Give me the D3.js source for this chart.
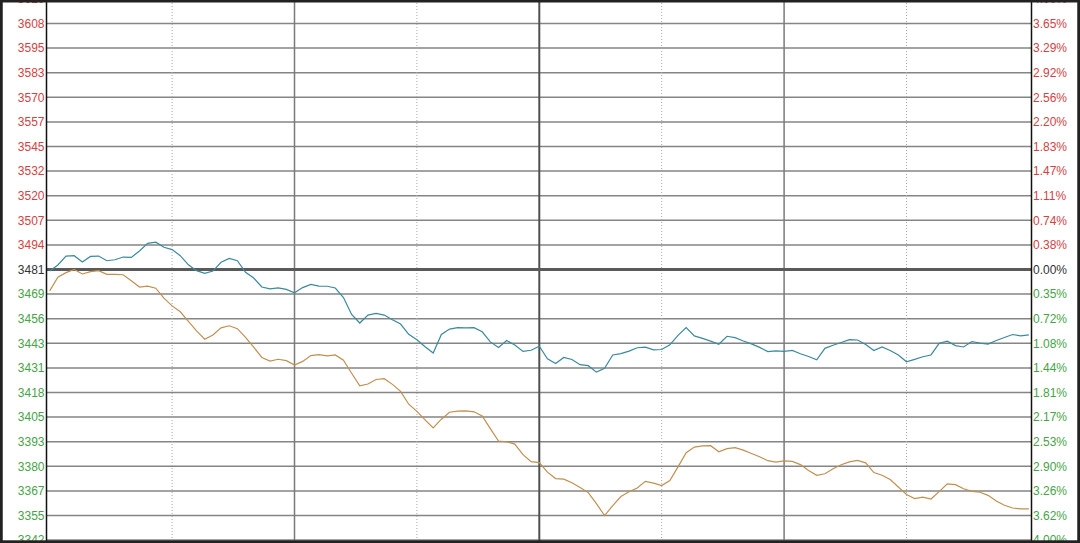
<!DOCTYPE html>
<html><head><meta charset="utf-8">
<script src="https://cdn.jsdelivr.net/npm/d3@7"></script>
<style>html,body{margin:0;padding:0;background:#fff;overflow:hidden}svg{display:block}</style>
</head><body>
<svg id="chart" width="1080" height="543"></svg>
<script>
// ---- data ----
const prevClose = 3481.3;
const gridStep = 12.636;
const leftLabels = ["3620","3608","3595","3583","3570","3557","3545","3532","3520","3507","3494","3481","3469","3456","3443","3431","3418","3405","3393","3380","3367","3355","3342"];
const rightLabels = ["4.00%","3.65%","3.29%","2.92%","2.56%","2.20%","1.83%","1.47%","1.11%","0.74%","0.38%","0.00%","0.35%","0.72%","1.08%","1.44%","1.81%","2.17%","2.53%","2.90%","3.26%","3.62%","4.00%"];
const timeMarks = [30, 60, 90, 120, 150, 180, 210];
const sampleStep = 2; // minutes between samples
const indexSeries = [3480.5,3483.6,3488.2,3488.4,3485.2,3488.0,3488.2,3485.8,3486.3,3487.7,
 3487.5,3490.8,3494.7,3495.3,3492.7,3491.5,3488.4,3483.7,3480.7,3479.3,
 3480.5,3485.0,3487.0,3485.8,3479.9,3476.9,3472.3,3471.4,3471.9,3471.1,
 3469.3,3472.0,3473.6,3472.8,3472.7,3471.8,3466.9,3458.2,3453.8,3457.9,
 3458.8,3457.9,3455.5,3453.3,3448.0,3445.2,3441.6,3438.4,3447.9,3450.7,
 3451.4,3451.3,3451.4,3449.3,3444.1,3441.2,3444.8,3442.5,3439.2,3439.8,
 3441.9,3435.4,3433.0,3436.1,3435.1,3432.4,3431.9,3428.6,3430.6,3437.4,
 3438.1,3439.4,3441.1,3441.4,3440.0,3440.2,3442.6,3447.5,3451.5,3447.2,
 3445.9,3444.5,3442.9,3447.0,3446.3,3444.6,3443.1,3441.3,3439.1,3439.5,
 3439.2,3439.7,3438.0,3436.6,3434.9,3440.8,3442.4,3443.8,3445.3,3445.1,
 3442.8,3439.7,3441.5,3439.7,3437.4,3433.9,3435.1,3436.5,3437.4,3443.4,
 3444.5,3442.2,3441.5,3444.3,3443.5,3443.0,3444.8,3446.4,3447.9,3447.2,3447.7];
const avgSeries = [3470.3,3477.3,3479.7,3481.3,3479.0,3480.2,3480.7,3478.8,3478.8,3478.6,
 3475.5,3472.3,3472.8,3471.7,3466.6,3462.6,3459.6,3454.6,3449.8,3445.5,
 3447.7,3451.3,3452.4,3450.9,3446.4,3441.4,3436.1,3434.3,3435.2,3434.5,
 3432.2,3434.1,3437.1,3437.6,3436.9,3437.4,3434.7,3428.0,3421.6,3422.5,
 3424.8,3425.2,3422.3,3418.7,3412.1,3408.4,3404.1,3399.9,3404.4,3408.0,
 3408.6,3408.7,3408.2,3406.1,3399.6,3393.2,3392.8,3391.6,3386.2,3382.6,
 3382.1,3377.2,3373.9,3373.6,3371.8,3369.3,3366.7,3361.0,3354.9,3360.0,
 3364.7,3367.1,3369.1,3372.5,3371.6,3370.3,3372.9,3379.9,3387.2,3390.1,
 3390.7,3390.8,3387.7,3389.3,3389.8,3388.5,3386.8,3385.1,3383.1,3382.4,
 3383.0,3382.7,3381.1,3378.0,3375.6,3376.4,3379.0,3381.0,3382.5,3383.2,
 3382.0,3377.0,3375.6,3373.4,3369.6,3365.7,3363.6,3364.4,3363.4,3367.2,
 3371.2,3370.8,3368.7,3367.3,3366.9,3365.3,3362.4,3360.2,3358.8,3358.3,3358.3];

// ---- layout ----
const W = 1080, H = 543;
const axisL = 46.5, axisR = 1031.5;
const svg = d3.select("#chart");
svg.append("rect").attr("width", W).attr("height", H).attr("fill", "#fff");

const nHalf = (leftLabels.length - 1) / 2;
const x = d3.scaleLinear().domain([0, 240]).range([49.7, 1028.9]);
const y = d3.scaleLinear()
  .domain([prevClose - nHalf * gridStep, prevClose + nHalf * gridStep])
  .range([540.1, -1.1]);

const ticks = leftLabels.map((lab, i) => ({k: nHalf - i, v: prevClose + (nHalf - i) * gridStep, left: lab, right: rightLabels[i]}));

const font = "'Liberation Sans', Arial, sans-serif";
const colorFor = k => k > 0 ? "#d44242" : (k < 0 ? "#45a545" : "#333");

// horizontal grid
svg.append("g").selectAll("line").data(ticks.filter(t => t.k !== 0)).join("line")
  .attr("x1", axisL).attr("x2", axisR)
  .attr("y1", d => y(d.v)).attr("y2", d => y(d.v))
  .attr("stroke", "#858585").attr("stroke-width", 1.5);

// vertical time lines
svg.append("g").selectAll("line").data(timeMarks).join("line")
  .attr("x1", d => x(d)).attr("x2", d => x(d))
  .attr("y1", 0).attr("y2", H)
  .attr("stroke", d => d === 120 ? "#505050" : (d % 60 === 0 ? "#7a7a7a" : "#a8a8a8"))
  .attr("stroke-width", d => d === 120 ? 2 : (d % 60 === 0 ? 1.5 : 1))
  .attr("stroke-dasharray", d => d % 60 === 0 ? null : "1,2");

// zero line
svg.append("line")
  .attr("x1", axisL).attr("x2", axisR)
  .attr("y1", y(prevClose)).attr("y2", y(prevClose))
  .attr("stroke", "#5a5a5a").attr("stroke-width", 3);

// data lines
const line = d3.line().x((d, i) => x(i * sampleStep)).y(d => y(d));
svg.append("path").datum(avgSeries).attr("d", line)
  .attr("fill", "none").attr("stroke", "#c0904f").attr("stroke-width", 1.2);
svg.append("path").datum(indexSeries).attr("d", line)
  .attr("fill", "none").attr("stroke", "#3a8a9e").attr("stroke-width", 1.2);

// axis frame lines
svg.append("line").attr("x1", axisL).attr("x2", axisL).attr("y1", 0).attr("y2", H)
  .attr("stroke", "#111").attr("stroke-width", 1.5);
svg.append("line").attr("x1", axisR).attr("x2", axisR).attr("y1", 0).attr("y2", H)
  .attr("stroke", "#111").attr("stroke-width", 1.5);

// labels
svg.append("g").selectAll("text").data(ticks).join("text")
  .attr("x", 44.5).attr("y", d => y(d.v)).attr("dy", "0.36em")
  .attr("text-anchor", "end").attr("font-family", font).attr("font-size", 12)
  .attr("fill", d => colorFor(d.k)).text(d => d.left);
svg.append("g").selectAll("text").data(ticks).join("text")
  .attr("x", 1033).attr("y", d => y(d.v)).attr("dy", "0.36em")
  .attr("text-anchor", "start").attr("font-family", font).attr("font-size", 12)
  .attr("fill", d => colorFor(d.k)).text(d => d.right);

// outer border
svg.append("rect").attr("x", 1.25).attr("y", 1).attr("width", W - 2.5).attr("height", H - 2.2)
  .attr("fill", "none").attr("stroke", "#222").attr("stroke-width", 3);
</script>
</body></html>
